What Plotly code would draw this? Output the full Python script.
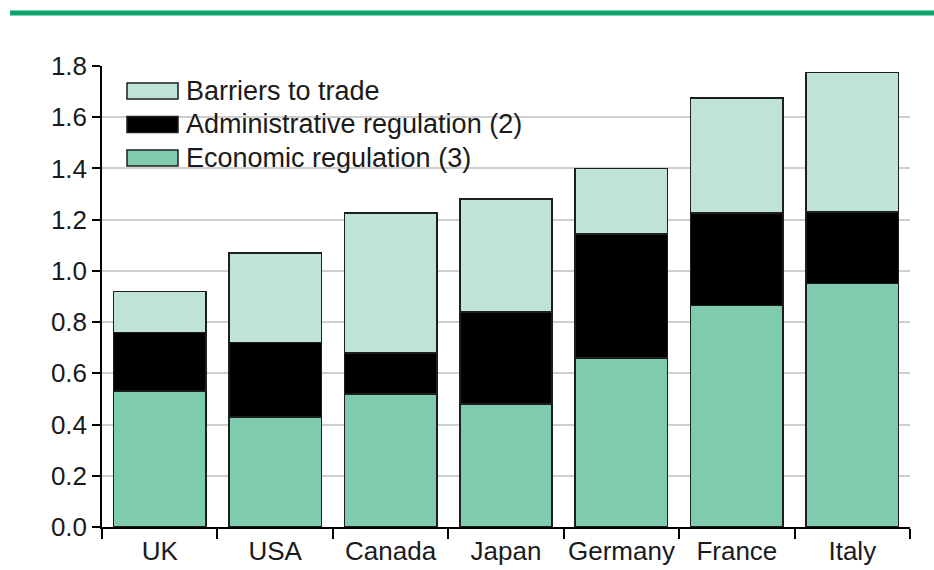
import plotly.graph_objects as go

countries = ["UK", "USA", "Canada", "Japan", "Germany", "France", "Italy"]
economic = [0.53, 0.43, 0.52, 0.48, 0.66, 0.865, 0.95]
administrative = [0.23, 0.29, 0.16, 0.36, 0.485, 0.36, 0.28]
barriers = [0.16, 0.35, 0.545, 0.44, 0.255, 0.45, 0.545]
series_names = ["Barriers to trade", "Administrative regulation (2)", "Economic regulation (3)"]
y_ticks = [0.0, 0.2, 0.4, 0.6, 0.8, 1.0, 1.2, 1.4, 1.6, 1.8]

C_LIGHT = "#bfe3d5"
C_BLACK = "#000000"
C_MID = "#7ecbae"
FONT = "Liberation Sans, Arial, sans-serif"

W, H = 934, 570
ML, MR, MT, MB = 102, 24, 66, 43

fig = go.Figure()
for vals, color, name in [(economic, C_MID, series_names[2]),
                          (administrative, C_BLACK, series_names[1]),
                          (barriers, C_LIGHT, series_names[0])]:
    fig.add_trace(go.Bar(x=countries, y=vals, name=name,
                         marker=dict(color=color, line=dict(color="#1e1e1e", width=1.6)),
                         showlegend=False))

def px_x(p):
    return (p - ML) / (W - ML - MR)

def px_y(p):
    return 1 - (p - MT) / (H - MT - MB)

shapes = []
annotations = []
# white legend background over gridlines
shapes.append(dict(type="rect", xref="paper", yref="paper", layer="between",
                   x0=px_x(117), x1=px_x(543), y0=px_y(182), y1=px_y(58),
                   fillcolor="white", line=dict(width=0)))
# custom legend
legend_items = [(series_names[0], C_LIGHT), (series_names[1], C_BLACK), (series_names[2], C_MID)]
for i, (name, col) in enumerate(legend_items):
    cy = 91 + i * 33.5
    shapes.append(dict(type="rect", xref="paper", yref="paper", layer="above",
                       x0=px_x(127), x1=px_x(178), y0=px_y(cy + 8), y1=px_y(cy - 8),
                       fillcolor=col, line=dict(color="#1e1e1e", width=1.5)))
    annotations.append(dict(xref="paper", yref="paper", x=px_x(184), y=px_y(cy),
                            xanchor="left", yanchor="middle", text=name, showarrow=False,
                            font=dict(family=FONT, size=27, color="#1a1a1a")))
# top green rule
shapes.append(dict(type="line", xref="paper", yref="paper",
                   x0=px_x(10), x1=px_x(934), y0=px_y(13), y1=px_y(13),
                   line=dict(color="#0aa56d", width=5)))

fig.update_layout(
    width=W, height=H,
    margin=dict(l=ML, r=MR, t=MT, b=MB, pad=0),
    barmode="stack", bargap=0.2,
    plot_bgcolor="white", paper_bgcolor="white",
    font=dict(family=FONT, size=26, color="#1a1a1a"),
    shapes=shapes, annotations=annotations,
    xaxis=dict(showline=True, linecolor="black", linewidth=1.5, automargin=False,
               ticks="outside", tickson="boundaries", ticklen=10, tickwidth=1.5,
               tickcolor="black", showgrid=False, tickangle=0,
               tickfont=dict(family=FONT, size=26, color="#1a1a1a")),
    yaxis=dict(range=[0, 1.8], tickvals=y_ticks, automargin=False,
               ticktext=[f"{v:.1f}" for v in y_ticks],
               showline=True, linecolor="black", linewidth=1.5,
               ticks="outside", ticklen=8, tickwidth=1.5, tickcolor="black",
               showgrid=True, gridcolor="#cfcfcf", gridwidth=2, zeroline=False,
               tickfont=dict(family=FONT, size=26, color="#1a1a1a")),
)

fig.write_html("out.html", config={"displayModeBar": False},
               post_script="document.body.style.margin='0';document.body.style.padding='0';")
